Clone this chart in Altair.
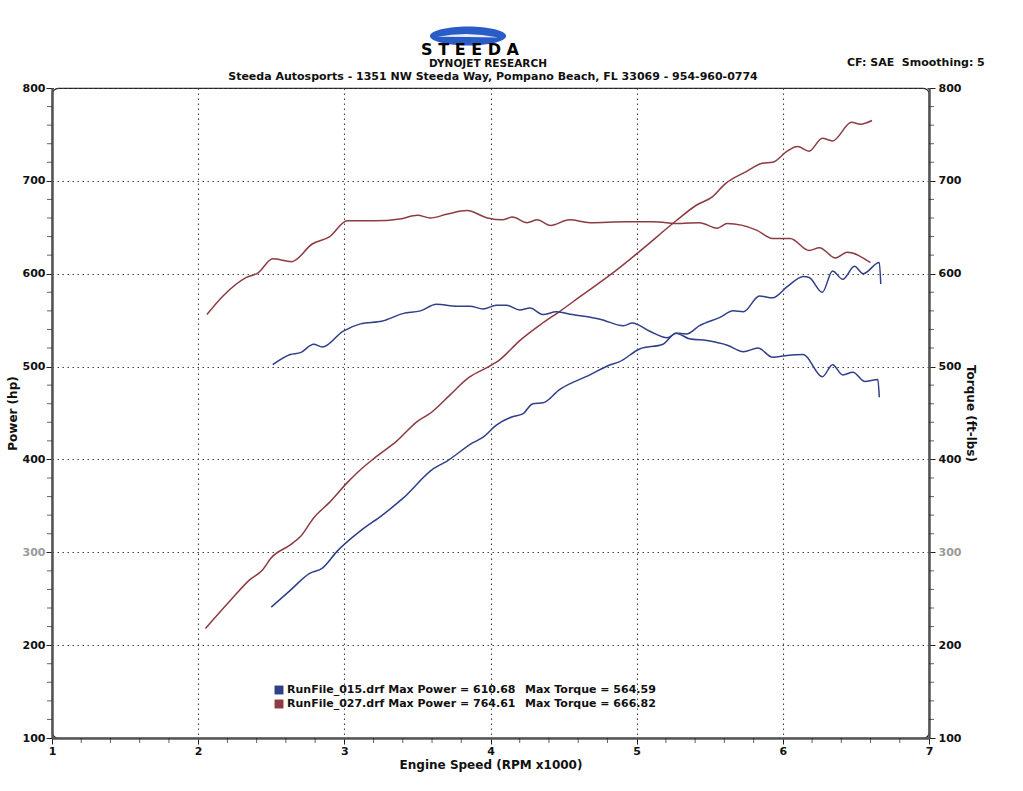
import altair as alt
import pandas as pd

# ---------------- data read from the dyno sheet ----------------
run_names = ["RunFile_015.drf", "RunFile_027.drf"]
run_colors = ["#2f3f88", "#8c3b42"]
max_power = [610.68, 764.61]
max_torque = [564.59, 666.82]

# RunFile_015 power (hp)
rpm_p015 = [2.50, 2.63, 2.76, 2.85, 2.95, 3.11, 3.26, 3.40, 3.61, 3.70, 3.88, 3.95, 4.04, 4.15,
            4.22, 4.29, 4.36, 4.47, 4.68, 4.82, 4.88, 5.02, 5.18, 5.27, 5.34, 5.43, 5.57, 5.66,
            5.73, 5.84, 5.93, 6.03, 6.14, 6.18, 6.27, 6.34, 6.41, 6.49, 6.55, 6.66, 6.67]
hp_015 = [241, 259, 277, 283, 301, 323, 340, 358, 390, 398, 418, 424, 437, 446,
          449, 460, 461, 475, 491, 502, 505, 519, 524, 536, 535, 544, 553, 560,
          559, 576, 574, 586, 597, 596, 580, 603, 594, 608, 600, 612, 589]

# RunFile_015 torque (ft-lbs)
rpm_t015 = [2.51, 2.63, 2.70, 2.79, 2.85, 2.99, 3.11, 3.26, 3.40, 3.52, 3.63, 3.77, 3.86, 3.95,
            4.04, 4.11, 4.20, 4.27, 4.36, 4.45, 4.56, 4.75, 4.91, 4.97, 5.09, 5.21, 5.27, 5.36,
            5.48, 5.62, 5.73, 5.83, 5.93, 6.03, 6.14, 6.27, 6.34, 6.41, 6.48, 6.56, 6.65, 6.66]
tq_015 = [502, 513, 515, 524, 521, 538, 546, 549, 557, 560, 567, 565, 565, 562,
          566, 566, 561, 563, 556, 559, 556, 551, 544, 547, 538, 531, 536, 530,
          528, 523, 516, 520, 510, 512, 513, 489, 502, 491, 494, 484, 486, 467]

# RunFile_027 power (hp)
rpm_p027 = [2.05, 2.22, 2.35, 2.44, 2.50, 2.63, 2.70, 2.79, 2.90, 3.02, 3.09, 3.21, 3.36, 3.50,
            3.59, 3.72, 3.85, 4.00, 4.06, 4.20, 4.34, 4.47, 4.61, 4.83, 5.02, 5.27, 5.41, 5.52,
            5.60, 5.75, 5.86, 5.93, 6.03, 6.10, 6.18, 6.27, 6.34, 6.47, 6.53, 6.61]
hp_027 = [218, 248, 270, 281, 294, 308, 317, 337, 354, 375, 386, 402, 420, 441,
          450, 469, 488, 501, 507, 528, 545, 559, 575, 600, 624, 657, 674, 683,
          696, 710, 719, 720, 732, 737, 732, 746, 743, 763, 761, 765]

# RunFile_027 torque (ft-lbs)
rpm_t027 = [2.06, 2.17, 2.33, 2.41, 2.51, 2.64, 2.78, 2.90, 3.02, 3.20, 3.38, 3.50, 3.59, 3.70,
            3.84, 3.98, 4.08, 4.15, 4.25, 4.32, 4.41, 4.54, 4.68, 4.93, 5.11, 5.30, 5.43, 5.55,
            5.62, 5.82, 5.93, 6.05, 6.18, 6.25, 6.36, 6.44, 6.60]
tq_027 = [556, 576, 596, 601, 616, 613, 632, 640, 657, 657, 659, 663, 660, 664,
          668, 660, 658, 661, 655, 658, 652, 658, 655, 656, 656, 654, 655, 649,
          654, 647, 638, 638, 625, 628, 617, 623, 612]

x_major = [1, 2, 3, 4, 5, 6, 7]
x_minor = [1.2, 1.4, 1.6, 1.8, 2.2, 2.4, 2.6, 2.8, 3.2, 3.4, 3.6, 3.8, 4.2, 4.4, 4.6, 4.8,
           5.2, 5.4, 5.6, 5.8, 6.2, 6.4, 6.6, 6.8]
y_major = [100, 200, 300, 400, 500, 600, 700, 800]
y_minor = [120, 140, 160, 180, 220, 240, 260, 280, 320, 340, 360, 380, 420, 440, 460, 480,
           520, 540, 560, 580, 620, 640, 660, 680, 720, 740, 760, 780]

header_line = "Steeda Autosports - 1351 NW Steeda Way, Pompano Beach, FL 33069 - 954-960-0774"
settings_line = "CF: SAE\u00a0\u00a0Smoothing: 5"

# ---------------- tables ----------------
def frame(rpm, val, run):
    return pd.DataFrame({"rpm": rpm, "value": val, "run": run})

power = pd.concat([frame(rpm_p015, hp_015, run_names[0]),
                   frame(rpm_p027, hp_027, run_names[1])], ignore_index=True)
torque = pd.concat([frame(rpm_t015, tq_015, run_names[0]),
                    frame(rpm_t027, tq_027, run_names[1])], ignore_index=True)

legend_df = pd.DataFrame({
    "run": run_names,
    "row": [0, 1],
    "left": [f"{r} Max Power = {p:.2f}" for r, p in zip(run_names, max_power)],
    "right": [f"Max Torque = {t:.2f}" for t in max_torque],
})

FONT = "DejaVu Sans"
color_scale = alt.Scale(domain=run_names, range=run_colors)
x_scale = alt.Scale(domain=[1, 7], nice=False, zero=False)
y_scale = alt.Scale(domain=[100, 800], nice=False, zero=False)
gray300 = {"condition": {"test": "datum.value == 300", "value": "#9a9a9a"}, "value": "#111111"}

x_axis = alt.Axis(
    values=x_major, format="d", grid=True, tickSize=6, labelPadding=1, labelFlush=False,
    title="Engine Speed (RPM x1000)", titlePadding=3,
)
y_left = alt.Axis(
    values=y_major, format="d", orient="left", grid=True, tickSize=6, labelPadding=1,
    labelFlush=False, labelColor=gray300, title="Power (hp)", titlePadding=3,
)
y_right = alt.Axis(
    values=y_major, format="d", orient="right", grid=False, tickSize=6, labelPadding=3,
    labelFlush=False, labelColor=gray300, title="Torque (ft-lbs)", titlePadding=3,
)

X = alt.X("rpm:Q", scale=x_scale, axis=x_axis)

power_layer = alt.Chart(power).mark_line(interpolate="monotone", strokeWidth=1.5).encode(
    x=X,
    y=alt.Y("value:Q", scale=y_scale, axis=y_left),
    color=alt.Color("run:N", scale=color_scale, legend=None),
)
torque_layer = alt.Chart(torque).mark_line(interpolate="monotone", strokeWidth=1.5).encode(
    x=X,
    y=alt.Y("value:Q", scale=y_scale, axis=y_right),
    color=alt.Color("run:N", scale=color_scale, legend=None),
)

# minor ticks drawn through the same scales
xm = alt.Chart(pd.DataFrame({"rpm": x_minor})).mark_tick(
    orient="vertical", size=5, thickness=1, color="#222"
).encode(x=X, y=alt.value(652.5))
ym = pd.DataFrame({"v": y_minor})
ym_left = alt.Chart(ym).mark_tick(orient="horizontal", size=5, thickness=1, color="#222").encode(
    y=alt.Y("v:Q", scale=y_scale, axis=None), x=alt.value(-2.5))
ym_right = alt.Chart(ym).mark_tick(orient="horizontal", size=5, thickness=1, color="#222").encode(
    y=alt.Y("v:Q", scale=y_scale, axis=None), x=alt.value(879.5))

# legend block (inside plot, lower left)
leg_y = alt.Y("row:Q", scale=alt.Scale(domain=[0, 1], range=[602, 616]), axis=None)
legend_sq = alt.Chart(legend_df).mark_square(size=80, opacity=1, filled=True).encode(
    x=alt.value(227), y=leg_y,
    color=alt.Color("run:N", scale=color_scale, legend=None),
)
legend_l = alt.Chart(legend_df).mark_text(
    align="left", baseline="middle", font=FONT, fontWeight="bold", fontSize=11, color="#111"
).encode(x=alt.value(235), y=leg_y, text="left:N")
legend_r = alt.Chart(legend_df).mark_text(
    align="left", baseline="middle", font=FONT, fontWeight="bold", fontSize=11, color="#111"
).encode(x=alt.value(473), y=leg_y, text="right:N")

# header decorations
one = pd.DataFrame({"k": [0]})
ellipse = alt.Chart(one).mark_point(
    shape="M-1,0 A1,0.25 0 1,1 1,0 A1,0.25 0 1,1 -1,0 Z",
    size=5800, filled=True, opacity=1, color="#2a5cc8",
).encode(x=alt.value(416), y=alt.value(-52))
swoosh = alt.Chart(one).mark_point(
    shape="M-0.8,0.02 Q0,-0.14 0.8,0.04 Q0,0.02 -0.8,0.02 Z",
    size=5800, filled=True, opacity=1, color="#e8eefb",
).encode(x=alt.value(416), y=alt.value(-52))
logo = alt.Chart(pd.DataFrame({"t": ["S T E E D A"]})).mark_text(
    font=FONT, fontWeight=900, fontSize=16, color="#000", baseline="middle", align="center"
).encode(x=alt.value(418), y=alt.value(-38), text="t:N")
dynojet = alt.Chart(pd.DataFrame({"t": ["DYNOJET RESEARCH"]})).mark_text(
    font=FONT, fontWeight="bold", fontSize=10.5, color="#111", baseline="middle", align="center"
).encode(x=alt.value(436), y=alt.value(-24), text="t:N")
address = alt.Chart(pd.DataFrame({"t": [header_line]})).mark_text(
    font=FONT, fontWeight="bold", fontSize=11, color="#111", baseline="middle", align="center"
).encode(x=alt.value(441), y=alt.value(-11), text="t:N")
settings = alt.Chart(pd.DataFrame({"t": [settings_line]})).mark_text(
    font=FONT, fontWeight="bold", fontSize=11, color="#111", baseline="middle", align="left"
).encode(x=alt.value(795), y=alt.value(-25), text="t:N")

chart = alt.layer(
    power_layer, torque_layer, xm, ym_left, ym_right, legend_sq, legend_l, legend_r,
    ellipse, swoosh, logo, dynojet, address, settings,
).resolve_scale(y="independent").properties(
    width=877, height=650,
    padding={"left": 52, "top": 88, "right": 94, "bottom": 53},
    autosize=alt.AutoSizeParams(type="none"),
    background="white",
).configure_view(
    stroke="#222", strokeWidth=1.2, cornerRadius=6,
).configure_axis(
    labelFont=FONT, labelFontWeight="bold", labelFontSize=11, labelColor="#111",
    titleFont=FONT, titleFontWeight="bold", titleFontSize=12, titleColor="#111",
    domainColor="#555", domainWidth=2.5, tickColor="#222", tickWidth=1,
    gridColor="#444", gridDash=[1.5, 3.5], gridWidth=1.1,
)

chart.save("out.html", embed_options={"renderer": "svg", "actions": False})
